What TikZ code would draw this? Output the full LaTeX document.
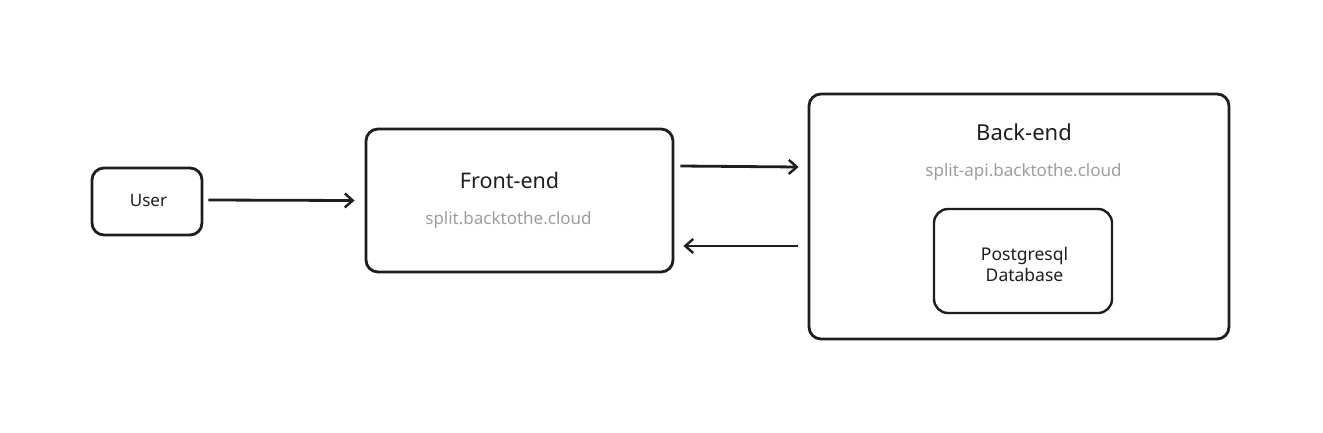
\documentclass[tikz,border=0pt]{standalone}
\usepackage{fontspec}
\setmainfont{Noto Sans}
\usetikzlibrary{arrows.meta,calc}
\definecolor{ink}{HTML}{1E1E1E}
\definecolor{sub}{HTML}{9E9E9E}
\tikzset{
  boxnode/.style={draw=ink, line width=2.8pt, rounded corners=12pt, inner sep=0pt, fill=white},
  innerbox/.style={draw=ink, line width=2.4pt, rounded corners=14pt, inner sep=0pt},
  arr/.style={draw=ink, line width=2.8pt, -{Straight Barb[length=8pt,width=14pt,line width=2.4pt]}},
  lbl/.style={text=ink, inner sep=0pt},
  sublbl/.style={text=sub, inner sep=0pt}
}
\begin{document}
\begin{tikzpicture}[x=1pt,y=-1pt]
\useasboundingbox[fill=white] (0,0) rectangle (1323,432);
\node[boxnode, minimum width=110pt, minimum height=67pt] (user) at (147,201.5) {};
\node[boxnode, minimum width=307pt, minimum height=143pt] (fe) at (519.5,200.5) {};
\node[boxnode, minimum width=420pt, minimum height=245pt] (be) at (1019,216.5) {};
\node[innerbox, minimum width=178pt, minimum height=104pt] (db) at (1023,261) {};

\node[lbl, font=\fontsize{17}{20}\selectfont] (userlbl) at (148.5,201) {User};
\node[lbl, font=\fontsize{21.5}{26}\selectfont] (felbl) at (509.5,180) {Front-end};
\node[sublbl, font=\fontsize{17}{20}\selectfont] (fesub) at (508.5,220) {split.backtothe.cloud};
\node[lbl, font=\fontsize{22}{26}\selectfont] (belbl) at (1024,132) {Back-end};
\node[sublbl, font=\fontsize{17}{20}\selectfont] (besub) at (1023.5,172) {split-api.backtothe.cloud};
\node[lbl, font=\fontsize{17.5}{21}\selectfont, align=center] (dblbl) at (1024.5,264) {Postgresql\\Database};

\draw[arr] ([xshift=5pt,yshift=1.5pt]user.east) -- ([xshift=-10pt]fe.west);
\draw[arr] ([xshift=6pt,yshift=34.5pt]fe.east) -- ([xshift=-9pt,yshift=49.5pt]be.west);
\draw[arr] ([xshift=-10pt,yshift=-29.5pt]be.west) -- ([xshift=9pt,yshift=-45.5pt]fe.east);
\end{tikzpicture}
\end{document}
